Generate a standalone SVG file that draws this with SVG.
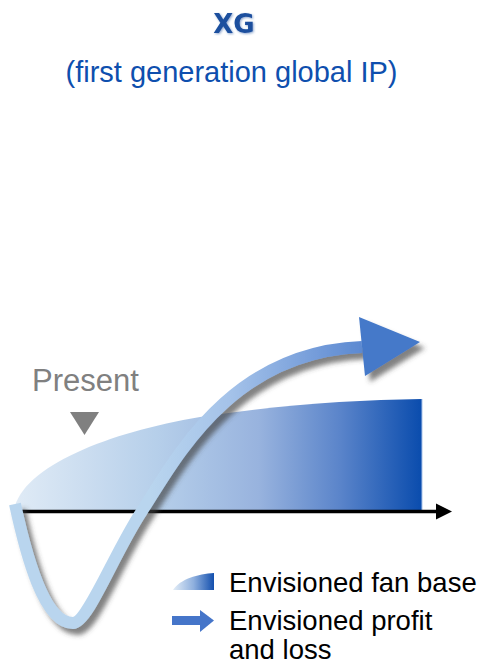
<svg xmlns="http://www.w3.org/2000/svg" width="485" height="664" viewBox="0 0 485 664">
<defs>
<style>
.title{font-family:"DejaVu Sans",Verdana,sans-serif;font-weight:bold;font-size:26px;fill:#1b4f9e;}
.sub{font-family:"Liberation Sans",Arial,sans-serif;font-size:29px;fill:#0e4fae;}
.present{font-family:"Liberation Sans",Arial,sans-serif;font-size:31px;fill:#808080;}
.leg{font-family:"Liberation Sans",Arial,sans-serif;font-size:27.5px;fill:#000;}
</style>
<linearGradient id="fanGrad" gradientUnits="userSpaceOnUse" x1="14" y1="0" x2="422" y2="0">
<stop offset="0" stop-color="#e0ebf6"/>
<stop offset="0.35" stop-color="#b6cfea"/>
<stop offset="0.6" stop-color="#98b3de"/>
<stop offset="0.8" stop-color="#5a84ca"/>
<stop offset="1" stop-color="#0a4cad"/>
</linearGradient>
<linearGradient id="legFanGrad" gradientUnits="userSpaceOnUse" x1="173" y1="0" x2="214" y2="0">
<stop offset="0" stop-color="#e3edf7"/>
<stop offset="0.5" stop-color="#8fb0de"/>
<stop offset="1" stop-color="#134fae"/>
</linearGradient>
<linearGradient id="arrowGrad" gradientUnits="userSpaceOnUse" x1="150" y1="0" x2="420" y2="0">
<stop offset="0" stop-color="#b9d5ee"/>
<stop offset="0.3" stop-color="#a4c2e9"/>
<stop offset="0.65" stop-color="#6f98d8"/>
<stop offset="1" stop-color="#3d72c7"/>
</linearGradient>
<filter id="shadow" x="-20%" y="-20%" width="140%" height="140%">
<feDropShadow dx="5" dy="6" stdDeviation="2.5" flood-color="#404040" flood-opacity="0.65"/>
</filter>
<filter id="tshadow" x="-20%" y="-20%" width="140%" height="140%">
<feDropShadow dx="1" dy="1" stdDeviation="1" flood-color="#1b4f9e" flood-opacity="0.5"/>
</filter>
</defs>
<rect width="485" height="664" fill="#ffffff"/>

<g id="title">
<text class="title" x="234" y="33" text-anchor="middle" filter="url(#tshadow)">XG</text>
<text class="sub" x="231.5" y="82" text-anchor="middle">(first generation global IP)</text>
</g>

<g id="fan-base">
<path d="M14,510 C22,466 110,432 200,417 C280,405 350,400 422,399 L422,510 Z" fill="url(#fanGrad)"/>
<line x1="422" y1="399" x2="422" y2="510" stroke="#a9c4ea" stroke-width="1"/>
</g>

<g id="present">
<text class="present" x="32" y="391">Present</text>
<polygon points="70,412 99,412 84.5,435" fill="#808080"/>
</g>

<g id="connectors">
<line x1="16" y1="511.5" x2="438" y2="511.5" stroke="#000" stroke-width="3.5"/>
<polygon points="436,503.5 452,511.5 436,519.5" fill="#000"/>
</g>

<g id="profit-loss" filter="url(#shadow)">
<path d="M15,504 C26,555 44,623 73,623 C88,623 114,553 142,511 C175,460 230,352 362,347" fill="none" stroke="url(#arrowGrad)" stroke-width="12"/>
<polygon points="359,317 420,342 365,376" fill="#4479c9"/>
</g>

<g id="legend">
<path d="M173,590 C180,579 198,574 214,573 L214,590 Z" fill="url(#legFanGrad)"/>
<text class="leg" x="229" y="592">Envisioned fan base</text>
<rect x="172" y="616" width="29" height="9" fill="#4575c9"/>
<polygon points="200,610 214,620.5 200,632" fill="#4575c9"/>
<text class="leg" x="229" y="630">Envisioned profit</text>
<text class="leg" x="229" y="659">and loss</text>
</g>
</svg>
